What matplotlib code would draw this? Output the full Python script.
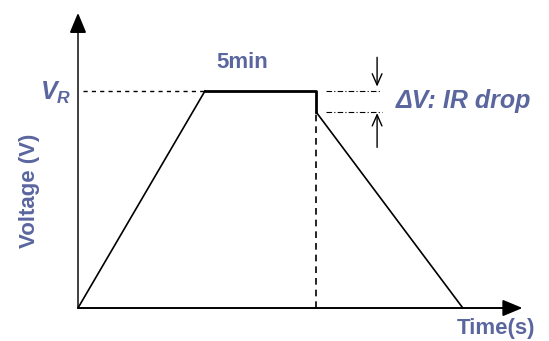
import matplotlib
matplotlib.use("Agg")
import matplotlib.pyplot as plt

# Data (arbitrary units)
time = [0.0, 2.0, 3.75, 3.75, 6.06]
voltage = [0.0, 1.0, 1.0, 0.903, 0.0]
v_rated = 1.0
t_end_hold = 3.75
v_after_drop = 0.903

label_color = "#5B669F"
plt.rcParams['font.family'] = ['Liberation Sans', 'DejaVu Sans']
plt.rcParams['mathtext.fontset'] = 'custom'
plt.rcParams['mathtext.it'] = 'Liberation Sans:italic:bold'
plt.rcParams['mathtext.rm'] = 'Liberation Sans:bold'

fig = plt.figure(figsize=(5.49, 3.41), dpi=100)
ax = fig.add_axes([0, 0, 1, 1])
ax.set_xlim(-1.228, 7.417)
ax.set_ylim(-0.152, 1.419)
ax.axis('off')

# axes with arrows
ax.annotate('', xy=(7.0, 0), xytext=(0, 0),
            arrowprops=dict(arrowstyle='-|>,head_length=1.2,head_width=0.5', color='black', lw=1.4,
                            shrinkA=0, shrinkB=0))
ax.plot([0, 0], [0, 1.3], color='#404040', lw=1.4, solid_capstyle='butt')
ax.annotate('', xy=(0, 1.36), xytext=(0, 1.28),
            arrowprops=dict(arrowstyle='-|>,head_length=1.2,head_width=0.5', color='black', lw=1.4,
                            shrinkA=0, shrinkB=0))

# voltage profile
ax.plot(time[:2], voltage[:2], color='black', lw=1.2)
ax.plot(time[1:4], voltage[1:4], color='black', lw=2.0)
ax.plot(time[3:], voltage[3:], color='black', lw=1.2)

# guides
ax.plot([0.08, time[1]], [v_rated, v_rated], color='black', lw=1.0, ls=(0, (3, 3)))
ax.plot([t_end_hold, t_end_hold], [0, v_after_drop], color='black', lw=1.2, ls=(0, (4, 3)))
ax.plot([3.9, 4.75], [v_rated, v_rated], color='black', lw=0.8, ls=(0, (5, 2, 1, 2)))
ax.plot([3.9, 4.78], [v_after_drop, v_after_drop], color='black', lw=0.8, ls=(0, (5, 2, 1, 2)))

ax.annotate('', xy=(4.71, v_rated + 0.02), xytext=(4.71, 1.155),
            arrowprops=dict(arrowstyle='->,head_length=0.8,head_width=0.35', color='black', lw=1.0,
                            shrinkA=0, shrinkB=0))
ax.annotate('', xy=(4.71, v_after_drop - 0.005), xytext=(4.71, 0.74),
            arrowprops=dict(arrowstyle='->,head_length=0.8,head_width=0.35', color='black', lw=1.0,
                            shrinkA=0, shrinkB=0))

# text
ax.text(2.58, 1.13, '5min', color=label_color, fontsize=16, fontweight='bold', ha='center', va='center')
ax.text(5.0, 0.955, 'ΔV: IR drop', color=label_color, fontsize=18, fontweight='bold', style='italic',
        ha='left', va='center')
ax.text(-0.36, 0.99, r'$V_R$', color=label_color, fontsize=18, ha='center', va='center')
ax.text(-0.76, 0.54, 'Voltage (V)', color=label_color, fontsize=16, fontweight='bold',
        rotation=90, ha='center', va='center')
ax.text(7.2, -0.093, 'Time(s)', color=label_color, fontsize=16, fontweight='bold', ha='right', va='center')

fig.savefig('out.png', dpi=100)
